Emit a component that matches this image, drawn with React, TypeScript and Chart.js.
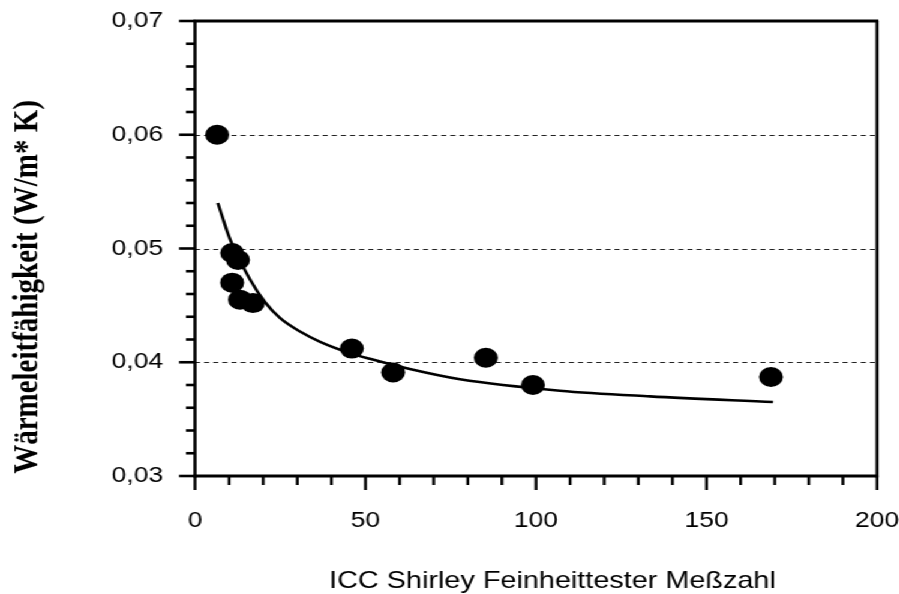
import React, { useEffect, useRef } from 'react';
import { Chart, registerables } from 'chart.js';

Chart.register(...registerables);

// Measured data points (ICC Shirley Meßzahl, Wärmeleitfähigkeit)
const pointX = [6.5, 10.9, 12.6, 10.9, 13.2, 17.0, 46.0, 58.1, 85.3, 99.1, 168.9];
const pointY = [0.06, 0.0496, 0.049, 0.047, 0.0455, 0.0452, 0.0412, 0.0391, 0.0404, 0.038, 0.0387];

// Fitted trend curve
const curveX = [6.7, 10.3, 16.1, 20.5, 24.9, 30.8, 36.7, 45.5, 51.3, 63, 77.7, 107, 133.4, 169.5];
const curveY = [0.054, 0.0508, 0.0473, 0.0453, 0.0439, 0.0427, 0.0418, 0.0408, 0.0403, 0.0394, 0.0385, 0.0375, 0.037, 0.0365];

const xTickValues = [0, 50, 100, 150, 200];
const yTickValues = [0.03, 0.04, 0.05, 0.06, 0.07];
const gridValues = [0.04, 0.05, 0.06];
const xMinorStep = 10;
const yMinorStep = 0.002;

const xTitle = 'ICC Shirley Feinheittester Meßzahl';
const yTitle = 'Wärmeleitfähigkeit (W/m* K)';

const STRETCH = 1.2;
const W = 899 / STRETCH;
const H = 594;
const PLOT_LEFT = 195 / STRETCH;
const PLOT_RIGHT = 877 / STRETCH;
const PLOT_TOP = 21;
const PLOT_BOTTOM = 476;

const framePlugin = {
  id: 'framePlugin',
  beforeDatasetsDraw(chart: any) {
    const { ctx, chartArea, scales } = chart;
    const xs = scales.x;
    const ys = scales.y;
    ctx.save();
    // dashed grid lines
    ctx.strokeStyle = '#222';
    ctx.lineWidth = 1;
    ctx.setLineDash([4.2, 3.4]);
    gridValues.forEach((v) => {
      const y = Math.round(ys.getPixelForValue(v)) + 0.5;
      ctx.beginPath();
      ctx.moveTo(chartArea.left, y);
      ctx.lineTo(chartArea.right, y);
      ctx.stroke();
    });
    ctx.setLineDash([]);
    ctx.strokeStyle = '#000';
    // frame
    ctx.lineWidth = 3;
    ctx.beginPath();
    ctx.moveTo(chartArea.left - 1.2, chartArea.top);
    ctx.lineTo(chartArea.right + 1.2, chartArea.top);
    ctx.moveTo(chartArea.left - 1.2, chartArea.bottom);
    ctx.lineTo(chartArea.right + 1.2, chartArea.bottom);
    ctx.stroke();
    ctx.lineWidth = 2.6;
    ctx.beginPath();
    ctx.moveTo(chartArea.left, chartArea.top);
    ctx.lineTo(chartArea.left, chartArea.bottom + 1.5);
    ctx.moveTo(chartArea.right, chartArea.top);
    ctx.lineTo(chartArea.right, chartArea.bottom + 1.5);
    ctx.stroke();
    // x ticks
    const xMin = xTickValues[0];
    const xMax = xTickValues[xTickValues.length - 1];
    ctx.lineWidth = 2.4;
    for (let v = xMin; v <= xMax + 1e-9; v += xMinorStep) {
      const isMajor = xTickValues.some((t) => Math.abs(t - v) < 1e-9);
      const x = xs.getPixelForValue(v);
      ctx.beginPath();
      ctx.moveTo(x, chartArea.bottom);
      ctx.lineTo(x, chartArea.bottom + (isMajor ? 14 : 9));
      ctx.stroke();
    }
    // y ticks
    const yMin = yTickValues[0];
    const yMax = yTickValues[yTickValues.length - 1];
    ctx.lineWidth = 2.6;
    const n = Math.round((yMax - yMin) / yMinorStep);
    for (let i = 0; i <= n; i++) {
      const v = yMin + i * yMinorStep;
      const isMajor = yTickValues.some((t) => Math.abs(t - v) < 1e-9);
      const y = ys.getPixelForValue(v);
      ctx.beginPath();
      ctx.moveTo(chartArea.left, y);
      ctx.lineTo(chartArea.left - (isMajor ? 13.3 : 7.5), y);
      ctx.stroke();
    }
    ctx.restore();
  },
  afterDraw(chart: any) {
    const { ctx } = chart;
    ctx.save();
    ctx.fillStyle = '#000';
    ctx.font = "24px 'Liberation Sans', Arial, sans-serif";
    ctx.textAlign = 'center';
    ctx.textBaseline = 'alphabetic';
    ctx.fillText(xTitle, 552.5 / STRETCH, 588);
    ctx.translate(30.5, 287);
    ctx.rotate(-Math.PI / 2);
    ctx.font = "bold 29px 'Liberation Serif', 'Times New Roman', serif";
    ctx.fillText(yTitle, 0, 0);
    ctx.restore();
  },
};

export default function App() {
  const canvasRef = useRef<HTMLCanvasElement | null>(null);

  useEffect(() => {
    if (!canvasRef.current) return;
    const points = pointX.map((x, i) => ({ x, y: pointY[i] }));
    const curve = curveX.map((x, i) => ({ x, y: curveY[i] }));
    const chart = new Chart(canvasRef.current, {
      type: 'scatter',
      data: {
        datasets: [
          {
            type: 'line',
            data: curve,
            borderColor: '#000',
            borderWidth: 2.6,
            pointRadius: 0,
            cubicInterpolationMode: 'monotone',
            fill: false,
            order: 2,
          } as any,
          {
            type: 'scatter',
            data: points,
            backgroundColor: '#000',
            borderColor: '#000',
            borderWidth: 0,
            pointRadius: 10,
            pointHoverRadius: 10,
            order: 1,
          },
        ],
      },
      options: {
        animation: false,
        responsive: true,
        maintainAspectRatio: false,
        events: [],
        layout: {
          autoPadding: false,
          padding: { top: PLOT_TOP, right: W - PLOT_RIGHT, left: 0, bottom: 0 },
        },
        plugins: { legend: { display: false }, tooltip: { enabled: false } },
        scales: {
          x: {
            type: 'linear',
            min: 0,
            max: 200,
            grid: { display: false, drawTicks: true, tickLength: 31.5 },
            border: { display: false },
            ticks: {
              stepSize: 50,
              padding: 0,
              color: '#000',
              font: { family: "'Liberation Sans', Arial, sans-serif", size: 22 },
            },
            afterFit(scale: any) {
              scale.height = H - PLOT_BOTTOM;
            },
          },
          y: {
            type: 'linear',
            min: 0.03,
            max: 0.07,
            grid: { display: false, drawTicks: true, tickLength: 26.6 },
            border: { display: false },
            ticks: {
              stepSize: 0.01,
              padding: 0,
              color: '#000',
              font: { family: "'Liberation Sans', Arial, sans-serif", size: 22 },
              callback: (v: any) => Number(v).toFixed(2).replace('.', ','),
            },
            afterFit(scale: any) {
              scale.width = PLOT_LEFT;
            },
          },
        },
      },
      plugins: [framePlugin],
    });
    return () => chart.destroy();
  }, []);

  return (
    <div
      style={{
        position: 'absolute',
        left: 0,
        top: 0,
        width: W,
        height: H,
        transform: `scaleX(${STRETCH})`,
        transformOrigin: '0 0',
        background: '#fff',
      }}
    >
      <canvas ref={canvasRef} />
    </div>
  );
}
